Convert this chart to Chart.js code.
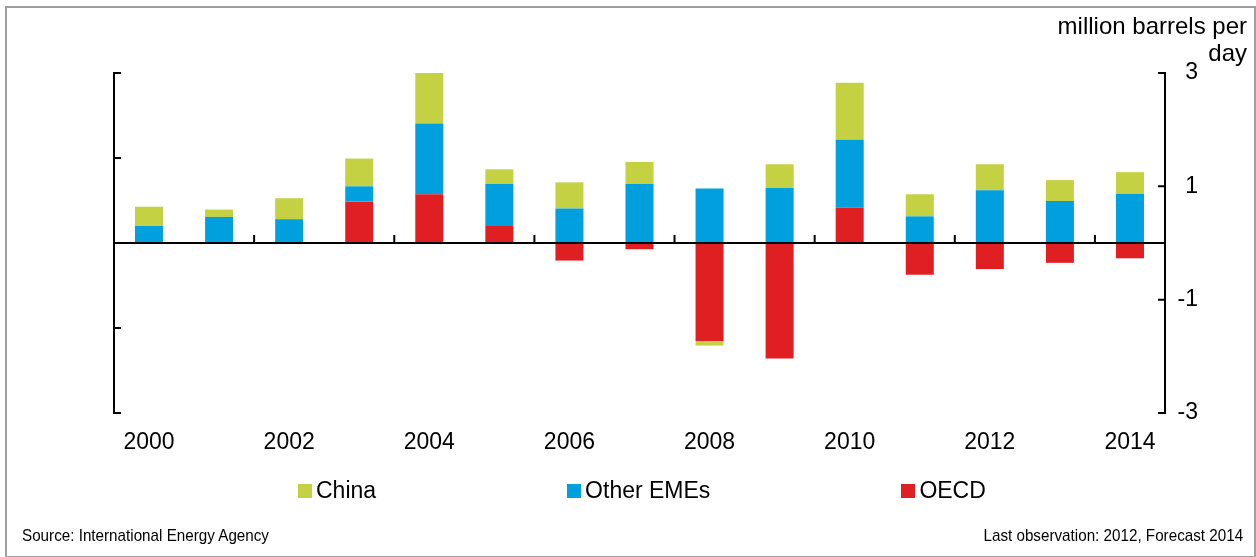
<!DOCTYPE html>
<html>
<head>
<meta charset="utf-8">
<script src="https://cdn.jsdelivr.net/npm/chart.js"></script>
<style>
    body { margin: 0; width: 1256px; height: 557px; overflow: hidden; background: #fff; font-family: "Liberation Sans", Arial, sans-serif; }
    #frame { position: absolute; left: 5px; top: 6px; width: 1247px; height: 548px; border: 2px solid #a0a0a0; }
    #chart { position: absolute; left: 0; top: 0; }
    #unit { position: absolute; right: 9px; top: 12px; font-size: 24px; line-height: 27px; text-align: right; color: #000; }
    #legend { position: absolute; left: 298px; top: 477px; display: flex; gap: 191px; font-size: 23px; color: #000; }
    #legend span.item { display: flex; align-items: center; }
    #legend span.box { width: 14px; height: 14px; margin-right: 4px; display: inline-block; }
    .foot { position: absolute; top: 526px; font-size: 17px; color: #000; transform: scaleX(0.895); }
</style>
</head>
<body>
<div id="frame"></div>
<canvas id="chart" width="1256" height="557"></canvas>
<div id="unit">million barrels per<br>day</div>
<div id="legend"></div>
<div class="foot" style="left:22px; transform-origin: left center">Source: International Energy Agency</div>
<div class="foot" style="right:13px; transform-origin: right center">Last observation: 2012, Forecast 2014</div>
<script>
const years = ['2000', '2001', '2002', '2003', '2004', '2005', '2006', '2007',
    '2008', '2009', '2010', '2011', '2012', '2013', '2014'];
const oecd = [0, 0.03, 0, 0.73, 0.86, 0.30, -0.31, -0.11, -1.73, -2.04, 0.62, -0.56, -0.46, -0.35, -0.27];
const otherEmes = [0.30, 0.43, 0.42, 0.27, 1.25, 0.74, 0.61, 1.04, 0.96, 0.97, 1.20, 0.47, 0.93, 0.74, 0.87];
const china = [0.34, 0.13, 0.37, 0.49, 0.90, 0.26, 0.46, 0.39, -0.08, 0.42, 1.01, 0.39, 0.46, 0.37, 0.38];
const rightTicks = [-3, -1, 1, 3];
const leftTicks = [-4, -2, 0, 2, 4];

// axis lines, inward ticks and zero line, all placed through the scales
const axisDecor = {
    id: 'axisDecor',
    afterDatasetsDraw(chart) {
        const { ctx, chartArea: a, scales } = chart;
        const x = scales.x, yl = scales.y, yr = scales.y2;
        const z = yr.getPixelForValue(0);
        ctx.save();
        ctx.strokeStyle = '#000';
        ctx.lineWidth = 2;
        ctx.beginPath();
        ctx.moveTo(a.left, z);
        ctx.lineTo(a.right, z);
        // left axis
        ctx.moveTo(a.left, yl.getPixelForValue(4));
        ctx.lineTo(a.left, yl.getPixelForValue(-4));
        leftTicks.forEach(v => {
            const p = yl.getPixelForValue(v);
            ctx.moveTo(a.left - 1, p);
            ctx.lineTo(a.left + 7, p);
        });
        // right axis
        ctx.moveTo(a.right, yr.getPixelForValue(3));
        ctx.lineTo(a.right, yr.getPixelForValue(-3));
        rightTicks.forEach(v => {
            const p = yr.getPixelForValue(v);
            ctx.moveTo(a.right + 1, p);
            ctx.lineTo(a.right - 7, p);
        });
        // category ticks on the zero line, every two years
        years.forEach((yr_, i) => {
            if (i === 0 || i % 2 !== 0) return;
            const p = (x.getPixelForValue(i - 1) + x.getPixelForValue(i)) / 2;
            ctx.moveTo(p, z);
            ctx.lineTo(p, z - 8);
        });
        ctx.stroke();
        ctx.restore();
    }
};

Chart.defaults.font.family = '"Liberation Sans", Arial, sans-serif';
Chart.defaults.color = '#000';

const chart = new Chart(document.getElementById('chart'), {
    type: 'bar',
    data: {
        labels: years,
        datasets: [
            { label: 'OECD', data: oecd, backgroundColor: '#e01f23', yAxisID: 'y2' },
            { label: 'Other EMEs', data: otherEmes, backgroundColor: '#00a0de', yAxisID: 'y2' },
            { label: 'China', data: china, backgroundColor: '#c4d143', yAxisID: 'y2' }
        ]
    },
    options: {
        responsive: false,
        animation: false,
        devicePixelRatio: 1,
        layout: { padding: { left: 114, top: 73, right: 58, bottom: 0 } },
        datasets: { bar: { barPercentage: 0.4, categoryPercentage: 1 } },
        plugins: { legend: { display: false }, tooltip: { enabled: false } },
        scales: {
            x: {
                stacked: true,
                grid: { display: false },
                border: { display: false },
                ticks: {
                    autoSkip: false,
                    maxRotation: 0,
                    padding: 8,
                    font: { size: 23 },
                    callback: (v, i) => (i % 2 === 0 ? years[i] : '')
                },
                afterFit: s => { s.height = 144; }
            },
            y: {
                position: 'left',
                min: -4,
                max: 4,
                ticks: { display: false, stepSize: 2 },
                grid: { display: false },
                border: { display: false },
                afterFit: s => { s.width = 0; }
            },
            y2: {
                position: 'right',
                stacked: true,
                min: -3,
                max: 3,
                ticks: { stepSize: 2, padding: 14, crossAlign: 'far', font: { size: 23 } },
                grid: { display: false },
                border: { display: false },
                afterFit: s => { s.width = 33; }
            }
        }
    },
    plugins: [axisDecor]
});

// legend in the reference order: China, Other EMEs, OECD
const legend = document.getElementById('legend');
chart.data.datasets.slice().reverse().forEach(ds => {
    const item = document.createElement('span');
    item.className = 'item';
    item.innerHTML = '<span class="box" style="background:' + ds.backgroundColor + '"></span>' + ds.label;
    legend.appendChild(item);
});
</script>
</body>
</html>
